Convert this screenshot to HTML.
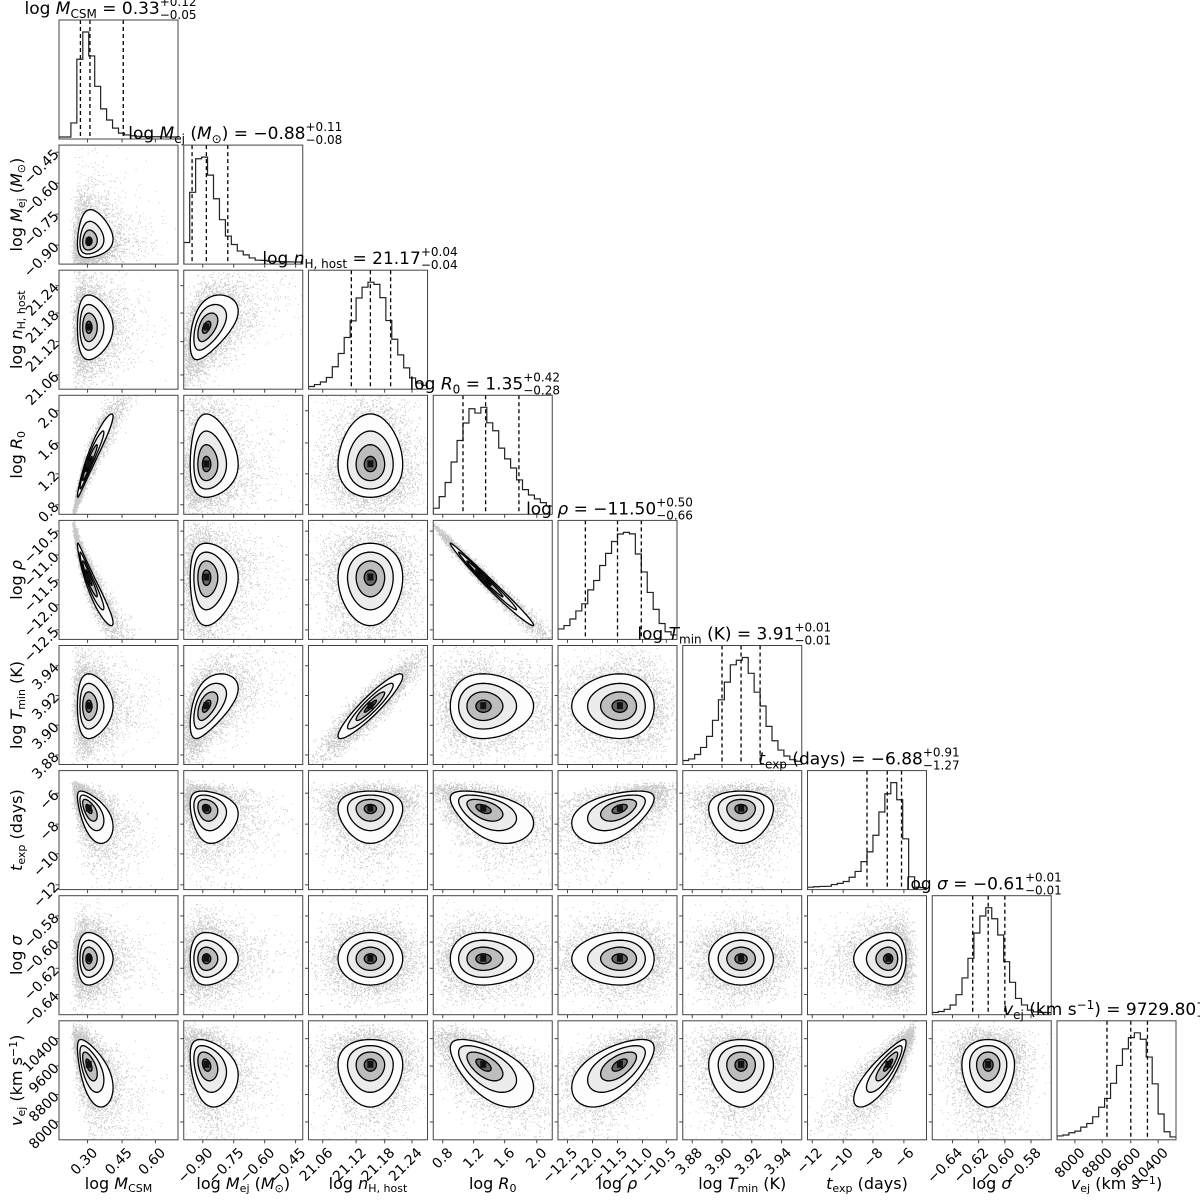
<!DOCTYPE html>
<html><head><meta charset="utf-8"><style>
html,body{margin:0;padding:0;background:#fff;width:1200px;height:1200px;overflow:hidden;}
svg{display:block;}
svg text{font-family:"DejaVu Sans","Liberation Sans",sans-serif;fill:#000;}
</style></head><body>
<svg id="s" xmlns="http://www.w3.org/2000/svg" width="1200" height="1200" viewBox="0 0 1200 1200"></svg>
<script>
const S=document.getElementById('s');
let seed=12345;function rnd(){seed=(seed*1664525+1013904223)>>>0;return seed/4294967296;}
function gauss(){let u=rnd()||1e-9,v=rnd();return Math.sqrt(-2*Math.log(u))*Math.cos(2*Math.PI*v);}
const W=119,X0=59,Y0=20,DX=124.75,DY=125.1;
const L=i=>X0+i*DX, T=j=>Y0+j*DY;
const V=[
 {c:.25,s:.08,q:.45,t:[.24,.53,.81],tl:['0.30','0.45','0.60'],lab:'log <tspan font-style="italic">M</tspan><tspan font-size="11" dy="3">CSM</tspan>',title:'log <tspan font-style="italic">M</tspan><tspan font-size="12" dy="4">CSM</tspan><tspan dy="-4"> = 0.33</tspan>',sup:'+0.12',sub:'−0.05',d:[.18,.26,.54]},
 {c:.19,s:.11,q:.4,t:[.16,.42,.68,.94],tl:['−0.90','−0.75','−0.60','−0.45'],lab:'log <tspan font-style="italic">M</tspan><tspan font-size="11" dy="3">ej</tspan><tspan dy="-3"> (</tspan><tspan font-style="italic">M</tspan><tspan font-size="11" dy="3">⊙</tspan><tspan dy="-3">)</tspan>',title:'log <tspan font-style="italic">M</tspan><tspan font-size="12" dy="4">ej</tspan><tspan dy="-4"> (</tspan><tspan font-style="italic">M</tspan><tspan font-size="12" dy="4">⊙</tspan><tspan dy="-4">) = −0.88</tspan>',sup:'+0.11',sub:'−0.08',d:[.07,.19,.37]},
 {c:.52,s:.16,q:0,t:[.12,.4,.64,.87],tl:['21.06','21.12','21.18','21.24'],lab:'log <tspan font-style="italic">n</tspan><tspan font-size="11" dy="3">H, host</tspan>',title:'log <tspan font-style="italic">n</tspan><tspan font-size="12" dy="4">H, host</tspan><tspan dy="-4"> = 21.17</tspan>',sup:'+0.04',sub:'−0.04',d:[.36,.52,.69]},
 {c:.42,s:.2,q:.25,t:[.08,.34,.6,.87],tl:['0.8','1.2','1.6','2.0'],lab:'log <tspan font-style="italic">R</tspan><tspan font-size="11" dy="3">0</tspan>',title:'log <tspan font-style="italic">R</tspan><tspan font-size="12" dy="4">0</tspan><tspan dy="-4"> = 1.35</tspan>',sup:'+0.42',sub:'−0.28',d:[.25,.44,.72]},
 {c:.52,s:.2,q:-.2,t:[.08,.29,.5,.71,.91],tl:['−12.5','−12.0','−11.5','−11.0','−10.5'],lab:'log <tspan font-style="italic">ρ</tspan>',title:'log <tspan font-style="italic">ρ</tspan> = −11.50',sup:'+0.50',sub:'−0.66',d:[.23,.5,.7]},
 {c:.49,s:.16,q:0,t:[.08,.33,.58,.83],tl:['3.88','3.90','3.92','3.94'],lab:'log <tspan font-style="italic">T</tspan><tspan font-size="11" dy="3">min</tspan><tspan dy="-3"> (K)</tspan>',title:'log <tspan font-style="italic">T</tspan><tspan font-size="12" dy="4">min</tspan><tspan dy="-4"> (K) = 3.91</tspan>',sup:'+0.01',sub:'−0.01',d:[.33,.49,.65]},
 {c:.68,s:.12,q:-.4,t:[.04,.3,.55,.81],tl:['−12','−10','−8','−6'],lab:'<tspan font-style="italic">t</tspan><tspan font-size="11" dy="3">exp</tspan><tspan dy="-3"> (days)</tspan>',title:'<tspan font-style="italic">t</tspan><tspan font-size="12" dy="4">exp</tspan><tspan dy="-4"> (days) = −6.88</tspan>',sup:'+0.91',sub:'−1.27',d:[.5,.67,.79]},
 {c:.47,s:.13,q:0,t:[.17,.39,.61,.83],tl:['−0.64','−0.62','−0.60','−0.58'],lab:'log <tspan font-style="italic">σ</tspan>',title:'log <tspan font-style="italic">σ</tspan> = −0.61',sup:'+0.01',sub:'−0.01',d:[.34,.47,.61]},
 {c:.63,s:.16,q:-.3,t:[.15,.38,.62,.85],tl:['8000','8800','9600','10400'],lab:'<tspan font-style="italic">v</tspan><tspan font-size="11" dy="3">ej</tspan><tspan dy="-3"> (km s</tspan><tspan font-size="11" dy="-5">−1</tspan><tspan dy="5">)</tspan>',title:'<tspan font-style="italic">v</tspan><tspan font-size="12" dy="4">ej</tspan><tspan dy="-4"> (km s</tspan><tspan font-size="12" dy="-6">−1</tspan><tspan dy="6">) = 9729.80</tspan>',sup:'+4',sub:'−7',d:[.42,.62,.76]}
];
const R={};function setr(a,b,r){R[a+','+b]=r;R[b+','+a]=r;}
setr(0,3,.96);setr(0,4,-.95);setr(3,4,-.99);setr(2,5,.92);setr(1,5,.55);setr(0,6,-.6);setr(0,8,-.6);
setr(6,8,.85);setr(4,6,.5);setr(3,6,-.5);setr(4,8,.6);setr(3,8,-.6);setr(1,2,.5);setr(1,8,-.3);setr(1,6,-.2);setr(0,1,.1);
const gq=(q,z)=>q?(Math.exp(q*z)-1)/q:z;
const tf=(v,z)=>v.c+v.s*gq(v.q,z);
let out='<defs>';
for(let i=0;i<9;i++)for(let j=i;j<9;j++)out+=`<clipPath id="c${i}_${j}"><rect x="${L(i)}" y="${T(j)}" width="${W}" height="${W}"/></clipPath>`;
out+='</defs>';
for(let j=0;j<9;j++)for(let i=0;i<=j;i++){
 const x0=L(i),y0=T(j);
 const cl=(v,a,b)=>Math.max(a,Math.min(b,v));
 let g=`<g clip-path="url(#c${i}_${j})">`;
 if(i===j){
  const v=V[i],nb=20,h=new Array(nb).fill(0);
  for(let k=0;k<20000;k++){const f=tf(v,gauss());const b=Math.floor(f*nb);if(b>=0&&b<nb)h[b]++;}
  const m=Math.max(...h);let p=`M${x0} ${y0+W}`;
  for(let b=0;b<nb;b++){const yy=y0+W-2-(h[b]/m)*(W-14);p+=` L${x0+b*W/nb} ${yy} L${x0+(b+1)*W/nb} ${yy}`;}
  g+=`<path d="${p}" fill="none" stroke="#222" stroke-width="1.2"/>`;
  v.d.forEach(d=>{g+=`<line x1="${x0+d*W}" y1="${y0}" x2="${x0+d*W}" y2="${y0+W}" stroke="#000" stroke-width="1.3" stroke-dasharray="4,3"/>`;});
 }else{
  const vx=V[i],vy=V[j],r=R[i+','+j]||0,rr=Math.sqrt(1-r*r);
  const map=(z1,z2)=>{const w=r*z1+rr*z2;return [x0+tf(vx,z1)*W,y0+(1-tf(vy,w))*W];};
  let pts='';
  for(let k=0;k<5000;k++){const [px,py]=map(gauss()*1.2,gauss()*1.2);if(px<x0||px>x0+W-1||py<y0||py>y0+W-1)continue;pts+=`M${px.toFixed(1)} ${py.toFixed(1)}h1v1h-1z`;}
  g+=`<path d="${pts}" fill="#555" fill-opacity="0.33"/>`;
  const lev=[[1.7,'#fdfdfd'],[1.2,'#ececec'],[0.75,'#bdbdbd'],[0.32,'#666']];
  lev.forEach(([k,col])=>{let p='';for(let a=0;a<=64;a++){const t=a/64*2*Math.PI;let [px,py]=map(k*Math.cos(t),k*Math.sin(t));px=cl(px,x0,x0+W);py=cl(py,y0,y0+W);p+=(a?'L':'M')+px.toFixed(1)+' '+py.toFixed(1);}
   g+=`<path d="${p}Z" fill="${col}" stroke="#000" stroke-width="1.3"/>`;});
  const [cx,cy]=map(0,0);g+=`<rect x="${cx-3}" y="${cy-4}" width="6" height="7" fill="#111"/>`;
 }
 g+='</g>';
 g+=`<rect x="${x0}" y="${y0}" width="${W}" height="${W}" fill="none" stroke="#444" stroke-width="1"/>`;
 V[i].t.forEach(t=>{g+=`<line x1="${x0+t*W}" y1="${y0+W}" x2="${x0+t*W}" y2="${y0+W+3.5}" stroke="#444"/>`;});
 if(i<j) V[j].t.forEach(t=>{g+=`<line x1="${x0}" y1="${y0+(1-t)*W}" x2="${x0-3.5}" y2="${y0+(1-t)*W}" stroke="#444"/>`;});
 out+=g;
}
for(let i=0;i<9;i++){const yb=T(8)+W+7;V[i].t.forEach((t,k)=>{const x=L(i)+t*W+4;out+=`<text x="${x}" y="${yb}" font-size="14" text-anchor="end" dominant-baseline="hanging" transform="rotate(-45 ${x} ${yb})">${V[i].tl[k]}</text>`;});
 out+=`<text x="${L(i)+W/2}" y="${T(8)+W+49}" font-size="16" text-anchor="middle">${V[i].lab}</text>`;}
for(let j=1;j<9;j++){const xl=L(0)-6;V[j].t.forEach((t,k)=>{const y=T(j)+(1-t)*W-4;out+=`<text x="${xl}" y="${y}" font-size="14" text-anchor="end" dominant-baseline="hanging" transform="rotate(-45 ${xl} ${y})">${V[j].tl[k]}</text>`;});
 const cx=22,cy=T(j)+W/2;out+=`<text x="${cx}" y="${cy}" font-size="16" text-anchor="middle" transform="rotate(-90 ${cx} ${cy})">${V[j].lab}</text>`;}
for(let i=0;i<9;i++){const v=V[i];const cx=L(i)+W/2-8,y=T(i)-6;
 out+=`<text class="ttl" x="${cx}" y="${y}" font-size="17" text-anchor="middle">${v.title}<tspan font-size="12" dy="-8">${v.sup}</tspan></text>`;
 out+=`<text id="sb${i}" x="0" y="${y+5}" font-size="12">${v.sub}</text>`;}
S.innerHTML=out;
[...S.querySelectorAll('text.ttl')].forEach((e,i)=>{const sp=e.lastElementChild;try{const b=sp.getBBox();document.getElementById('sb'+i).setAttribute('x',b.x);}catch(err){}});
</script>
</body></html>
